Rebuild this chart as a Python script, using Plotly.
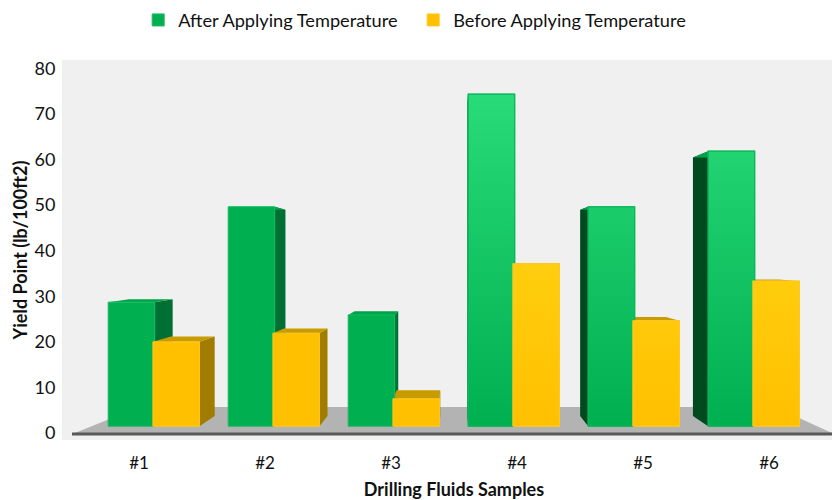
import plotly.graph_objects as go

categories = ["#1", "#2", "#3", "#4", "#5", "#6"]
after_values = [28.7, 49.6, 25.9, 74.3, 49.6, 61.8]
before_values = [20.0, 21.9, 7.5, 37.1, 24.6, 33.3]
after_name = "After Applying Temperature"
before_name = "Before Applying Temperature"

W, H = 832, 500
ML, MR, MT, MB = 76, 0, 60, 60
YMIN, YMAX = -1.53, 81.8
XMIN, XMAX = 0.5, 6.5
FONT = "Lato, Carlito, sans-serif"

# 3-D look: bars stand on a floor and recede to a vanishing point
BASE = 1.5
PITCH = 120 / 126
BAR_W = 46.5 / 126
G0, Y0 = 0.94, 1.295
VX, VY = 3.5, 39
DEPTH = 0.06
x_after = [G0 + i * PITCH for i in range(len(categories))]
x_before = [Y0 + i * PITCH for i in range(len(categories))]


def back(x, y):
    return x + DEPTH * (VX - x), y + DEPTH * (VY - y)


def path(points):
    return "M" + "L".join(f"{x:.4f},{y:.4f}" for x, y in points) + "Z"


def faces(xc, v, top_col, right_col, left_col):
    x0, x1 = xc - BAR_W / 2, xc + BAR_W / 2
    out = []
    edge, col = (x1, right_col) if VX > x1 else (x0, left_col)
    pts = [(edge, BASE), (edge, v), back(edge, v), back(edge, BASE)]
    out.append(dict(type="path", path=path(pts), xref="x", yref="y", layer="below",
                    fillcolor=col, line=dict(width=0)))
    pts = [(x0, v), (x1, v), back(x1, v), back(x0, v)]
    out.append(dict(type="path", path=path(pts), xref="x", yref="y", layer="below",
                    fillcolor=top_col, line=dict(width=0)))
    return out


def px(x):
    return (x - ML) / (W - ML - MR)


def py(y):
    return (H - MB - y) / (H - MT - MB)


shapes = [
    dict(type="rect", xref="paper", yref="paper", x0=px(62), x1=px(ML), y0=py(440), y1=py(60),
         fillcolor="#f0f0f0", line=dict(width=0), layer="below"),
    dict(type="path", xref="paper", yref="paper", layer="below", fillcolor="#b3b3b3",
         line=dict(width=0),
         path=path([(px(75), py(433)), (px(139), py(407)), (px(775), py(407)), (px(832), py(433))])),
    dict(type="line", xref="paper", yref="paper", layer="below",
         x0=px(72), x1=px(832), y0=py(434), y1=py(434), line=dict(color="#595959", width=3)),
]
for xc, v in zip(x_after, after_values):
    shapes += faces(xc, v, "#00a349", "#006f33", "#004a20")
for xc, v in zip(x_before, before_values):
    shapes += faces(xc, v, "#c89b00", "#a07c00", "#a07c00")

fig = go.Figure()
fig.add_bar(x=x_after, y=[v - BASE for v in after_values], base=BASE, width=BAR_W, name=after_name,
            marker=dict(color="#00b050", line=dict(color="#12bb60", width=1)))
fig.add_bar(x=x_before, y=[v - BASE for v in before_values], base=BASE, width=BAR_W, name=before_name,
            marker=dict(color="#ffc000", line=dict(color="#ffc81e", width=1)))


def glossy(xs, vs, scale, stop, line):
    for xc, v in list(zip(xs, vs))[3:]:
        x0, x1 = xc - BAR_W / 2, xc + BAR_W / 2
        fig.add_scatter(x=[x0, x1, x1, x0, x0], y=[BASE, BASE, v, v, BASE], mode="lines", fill="toself",
                        fillgradient=dict(type="vertical", colorscale=scale, start=BASE, stop=stop),
                        line=dict(color=line, width=1.2), showlegend=False, hoverinfo="skip")


glossy(x_after, after_values, [[0, "#00b050"], [1, "#2adb7a"]], 75, "#0bb658")
glossy(x_before, before_values, [[0, "#ffc000"], [1, "#ffce0e"]], 37, "#ffc81e")

fig.update_layout(
    width=W, height=H, margin=dict(l=ML, r=MR, t=MT, b=MB),
    paper_bgcolor="white", plot_bgcolor="#f0f0f0", barmode="overlay",
    font=dict(family=FONT, size=17, color="#111111"),
    shapes=shapes,
    legend=dict(orientation="h", x=0.446, xanchor="center", xref="paper", y=1.105, yanchor="middle",
                font=dict(size=18.2), traceorder="normal", entrywidth=230, entrywidthmode="pixels"),
    xaxis=dict(range=[XMIN, XMAX], tickmode="array", tickvals=list(range(1, 7)), ticktext=categories,
               showgrid=False, zeroline=False, showline=False, ticks="outside", ticklen=8,
               tickcolor="rgba(0,0,0,0)", tickfont=dict(size=17),
               title=dict(text="<b>Drilling Fluids Samples</b>", font=dict(size=18), standoff=14)),
    yaxis=dict(range=[YMIN, YMAX], tickmode="array", tickvals=list(range(0, 81, 10)),
               showgrid=False, zeroline=False, showline=False, ticks="outside", ticklen=16,
               tickcolor="rgba(0,0,0,0)", tickfont=dict(size=18),
               title=dict(text="<b>Yield Point (lb/100ft2)</b>", font=dict(size=18), standoff=2)),
)
fig.write_html("out.html", config=dict(displayModeBar=False),
               post_script="document.body.style.margin='0';")
